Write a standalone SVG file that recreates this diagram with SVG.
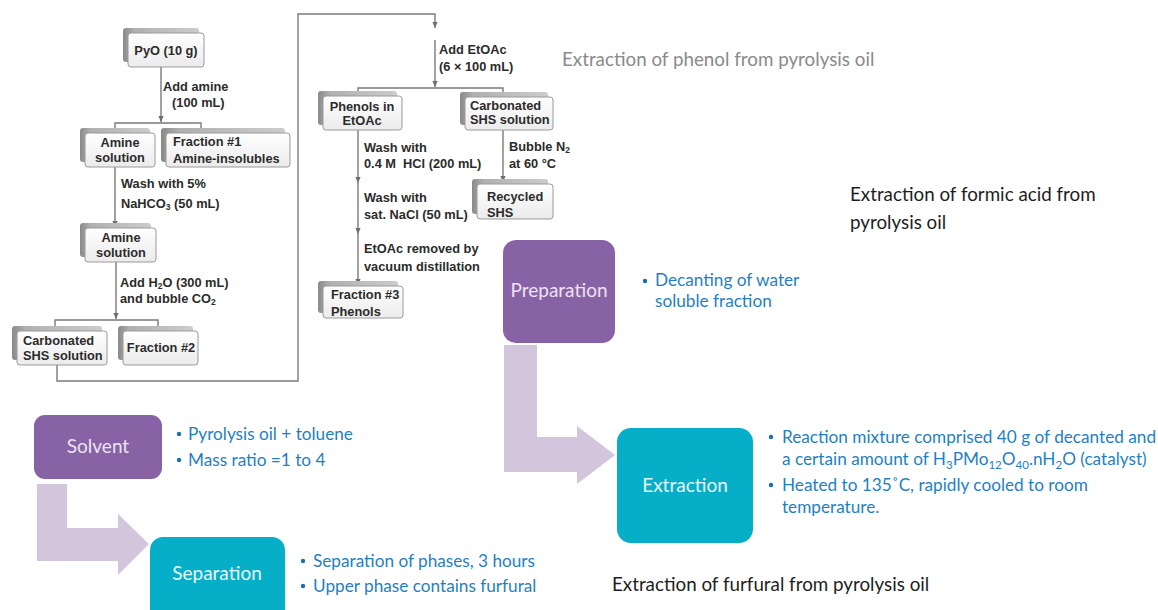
<svg xmlns="http://www.w3.org/2000/svg" width="1158" height="610" viewBox="0 0 1158 610">
  <style>
    .lbl { font-family: "Liberation Sans", Arial, sans-serif; font-weight: bold; font-size: 12.8px; fill: #2b2b2b; }
    .mid { text-anchor: middle; }
    .conn { fill: none; stroke: #7a7a7a; stroke-width: 1.4; }
    .back { fill: url(#backGrad); stroke: none; }
    .front { fill: url(#frontGrad); stroke: #9a9a9a; stroke-width: 1; }
    .title { font-family: Lato, "Open Sans", sans-serif; font-size: 18.8px; fill: #1e1e1e; }
    .bul { font-family: Lato, "Open Sans", sans-serif; font-size: 17.2px; fill: #1f7fc3; }
    .dot { fill: #1a6fae; }
    .node-txt { font-family: Lato, "Open Sans", sans-serif; font-size: 19px; text-anchor: middle; }
    .flow { fill: #d3c6dc; }
  </style>
  <defs>
    <linearGradient id="frontGrad" x1="0" y1="0" x2="0" y2="1">
      <stop offset="0" stop-color="#ffffff"/>
      <stop offset="1" stop-color="#ebebeb"/>
    </linearGradient>
    <linearGradient id="backGrad" x1="0" y1="0" x2="1" y2="0">
      <stop offset="0" stop-color="#8a8a8a"/>
      <stop offset="0.15" stop-color="#b0b0b0"/>
      <stop offset="1" stop-color="#cccccc"/>
    </linearGradient>
    <marker id="ah" viewBox="0 0 8 8" refX="8" refY="4" markerWidth="6" markerHeight="6" orient="auto" markerUnits="userSpaceOnUse">
      <path d="M0,0.5 L8,4 L0,7.5 Z" fill="#6e6e6e"/>
    </marker>
  </defs>

  <rect width="1158" height="610" fill="#ffffff"/>

  <!-- ===== Phenol separation flowchart: connectors ===== -->
  <g id="connectors">
    <!-- PyO to amine split -->
    <line class="conn" x1="161" y1="67" x2="161" y2="122" marker-end="url(#ah)"/>
    <polyline class="conn" points="115,128 115,123 201,123 201,128"/>
    <!-- amine solution down -->
    <line class="conn" x1="115" y1="167" x2="115" y2="227" marker-end="url(#ah)"/>
    <line class="conn" x1="116" y1="262" x2="116" y2="319" marker-end="url(#ah)"/>
    <polyline class="conn" points="55,326 55,320 158,320 158,326"/>
    <!-- carbonated SHS solution over to EtOAc extraction -->
    <polyline class="conn" points="57,365 57,381 298,381 298,14 435,14 435,28" marker-end="url(#ah)"/>
    <line class="conn" x1="435" y1="40" x2="435" y2="87" marker-end="url(#ah)"/>
    <polyline class="conn" points="358,92 358,88 503,88 503,92"/>
    <!-- phenols washing sequence -->
    <line class="conn" x1="358" y1="130" x2="358" y2="183" marker-end="url(#ah)"/>
    <line class="conn" x1="358" y1="183" x2="358" y2="234" marker-end="url(#ah)"/>
    <line class="conn" x1="358" y1="234" x2="358" y2="285" marker-end="url(#ah)"/>
    <!-- SHS regeneration -->
    <line class="conn" x1="503" y1="130" x2="503" y2="182" marker-end="url(#ah)"/>
  </g>

  <!-- connector labels -->
  <g id="step-labels" class="lbl">
    <text x="163" y="91">Add amine</text>
    <text x="172" y="107">(100 mL)</text>
    <text x="121" y="188">Wash with 5%</text>
    <text x="121" y="208">NaHCO<tspan font-size="8.5" dy="2">3</tspan><tspan dy="-2"> (50 mL)</tspan></text>
    <text x="120" y="287">Add H<tspan font-size="8.5" dy="2">2</tspan><tspan dy="-2">O (300 mL)</tspan></text>
    <text x="120" y="303">and bubble CO<tspan font-size="8.5" dy="2">2</tspan></text>
    <text x="439" y="54">Add EtOAc</text>
    <text x="439" y="71">(6 × 100 mL)</text>
    <text x="364" y="152">Wash with</text>
    <text x="364" y="168" xml:space="preserve">0.4 M  HCl (200 mL)</text>
    <text x="364" y="202">Wash with</text>
    <text x="364" y="219">sat. NaCl (50 mL)</text>
    <text x="364" y="253">EtOAc removed by</text>
    <text x="364" y="271">vacuum distillation</text>
    <text x="509" y="151">Bubble N<tspan font-size="8.5" dy="2">2</tspan></text>
    <text x="509" y="168">at 60 °C</text>
  </g>

  <!-- ===== Phenol separation flowchart: nodes ===== -->
  <g id="node-pyo">
    <rect class="back" x="123" y="28" width="76" height="34" rx="3"/>
    <rect class="front" x="128" y="33" width="76" height="34" rx="3"/>
    <text class="lbl mid" x="166" y="55">PyO (10 g)</text>
  </g>
  <g id="node-amine-1">
    <rect class="back" x="80" y="128" width="70" height="34" rx="3"/>
    <rect class="front" x="85" y="133" width="70" height="34" rx="3"/>
    <text class="lbl mid" x="120" y="147">Amine</text>
    <text class="lbl mid" x="120" y="162">solution</text>
  </g>
  <g id="node-fraction-1">
    <rect class="back" x="161" y="128" width="124" height="34" rx="3"/>
    <rect class="front" x="166" y="133" width="124" height="34" rx="3"/>
    <text class="lbl" x="173" y="146">Fraction #1</text>
    <text class="lbl" x="173" y="163">Amine-insolubles</text>
  </g>
  <g id="node-amine-2">
    <rect class="back" x="80" y="223" width="71" height="34" rx="3"/>
    <rect class="front" x="85" y="228" width="71" height="34" rx="3"/>
    <text class="lbl mid" x="121" y="242">Amine</text>
    <text class="lbl mid" x="121" y="257">solution</text>
  </g>
  <g id="node-carbonated-1">
    <rect class="back" x="12" y="326" width="90" height="34" rx="3"/>
    <rect class="front" x="17" y="331" width="90" height="34" rx="3"/>
    <text class="lbl" x="23" y="345">Carbonated</text>
    <text class="lbl" x="23" y="360">SHS solution</text>
  </g>
  <g id="node-fraction-2">
    <rect class="back" x="118" y="326" width="75" height="34" rx="3"/>
    <rect class="front" x="123" y="331" width="75" height="34" rx="3"/>
    <text class="lbl mid" x="161" y="352">Fraction #2</text>
  </g>
  <g id="node-phenols-etoac">
    <rect class="back" x="318" y="91" width="79" height="34" rx="3"/>
    <rect class="front" x="323" y="96" width="79" height="34" rx="3"/>
    <text class="lbl mid" x="362" y="111">Phenols in</text>
    <text class="lbl mid" x="362" y="125">EtOAc</text>
  </g>
  <g id="node-carbonated-2">
    <rect class="back" x="460" y="92" width="88" height="33" rx="3"/>
    <rect class="front" x="465" y="97" width="88" height="33" rx="3"/>
    <text class="lbl" x="470" y="110">Carbonated</text>
    <text class="lbl" x="470" y="124">SHS solution</text>
  </g>
  <g id="node-recycled">
    <rect class="back" x="472" y="179" width="76" height="35" rx="3"/>
    <rect class="front" x="477" y="184" width="76" height="35" rx="3"/>
    <text class="lbl" x="487" y="201">Recycled</text>
    <text class="lbl" x="487" y="217">SHS</text>
  </g>
  <g id="node-fraction-3">
    <rect class="back" x="318" y="281" width="80" height="32" rx="3"/>
    <rect class="front" x="323" y="286" width="80" height="32" rx="3"/>
    <text class="lbl" x="331" y="299">Fraction #3</text>
    <text class="lbl" x="331" y="316">Phenols</text>
  </g>

  <!-- ===== Headings ===== -->
  <text class="title" x="562" y="66" style="fill:#8a8a8a">Extraction of phenol from pyrolysis oil</text>
  <text class="title" x="850" y="201">Extraction of formic acid from</text>
  <text class="title" x="850" y="229">pyrolysis oil</text>
  <text class="title" x="612" y="591">Extraction of furfural from pyrolysis oil</text>

  <!-- ===== Formic acid process ===== -->
  <g id="flow-arrows">
    <path class="flow" d="M504,345 H537 V437 H577 V426 L615,455 L577,484 V472 H504 Z"/>
    <path class="flow" d="M37,484 H67 V528 H118 V514 L149,544 L118,575 V561 H37 Z"/>
  </g>

  <g id="node-preparation">
    <rect x="503" y="240" width="112" height="103" rx="13" fill="#8763a5"/>
    <text class="node-txt" x="559" y="297" fill="#eee2f2" font-size="16.5">Preparation</text>
  </g>
  <g id="notes-preparation">
    <circle class="dot" cx="645" cy="281" r="2.2"/>
    <text class="bul" x="655" y="286">Decanting of water</text>
    <text class="bul" x="655" y="307">soluble fraction</text>
  </g>

  <g id="node-extraction">
    <rect x="617" y="428" width="136" height="115" rx="14" fill="#06aec7"/>
    <text class="node-txt" x="685" y="492" fill="#e8f7f9">Extraction</text>
  </g>
  <g id="notes-extraction">
    <circle class="dot" cx="771" cy="437" r="2.2"/>
    <text class="bul" x="782" y="443">Reaction mixture comprised 40 g of decanted and</text>
    <text class="bul" x="782" y="465">a certain amount of H<tspan font-size="11.5" dy="4">3</tspan><tspan dy="-4">PMo</tspan><tspan font-size="11.5" dy="4">12</tspan><tspan dy="-4">O</tspan><tspan font-size="11.5" dy="4">40</tspan><tspan dy="-4">.nH</tspan><tspan font-size="11.5" dy="4">2</tspan><tspan dy="-4">O (catalyst)</tspan></text>
    <circle class="dot" cx="771" cy="485" r="2.2"/>
    <text class="bul" x="782" y="491">Heated to 135˚C, rapidly cooled to room</text>
    <text class="bul" x="782" y="513">temperature.</text>
  </g>

  <!-- ===== Furfural process ===== -->
  <g id="node-solvent">
    <rect x="34" y="415" width="128" height="64" rx="11" fill="#8763a5"/>
    <text class="node-txt" x="98" y="453" fill="#eee2f2">Solvent</text>
  </g>
  <g id="notes-solvent">
    <circle class="dot" cx="179" cy="434" r="2.2"/>
    <text class="bul" x="188" y="440">Pyrolysis oil + toluene</text>
    <circle class="dot" cx="179" cy="460" r="2.2"/>
    <text class="bul" x="188" y="466">Mass ratio =1 to 4</text>
  </g>

  <g id="node-separation">
    <rect x="150" y="537" width="135" height="90" rx="13" fill="#06aec7"/>
    <text class="node-txt" x="217" y="580" fill="#e8f7f9">Separation</text>
  </g>
  <g id="notes-separation">
    <circle class="dot" cx="303" cy="561" r="2.2"/>
    <text class="bul" x="313" y="567">Separation of phases, 3 hours</text>
    <circle class="dot" cx="303" cy="586" r="2.2"/>
    <text class="bul" x="313" y="592">Upper phase contains furfural</text>
  </g>
</svg>
